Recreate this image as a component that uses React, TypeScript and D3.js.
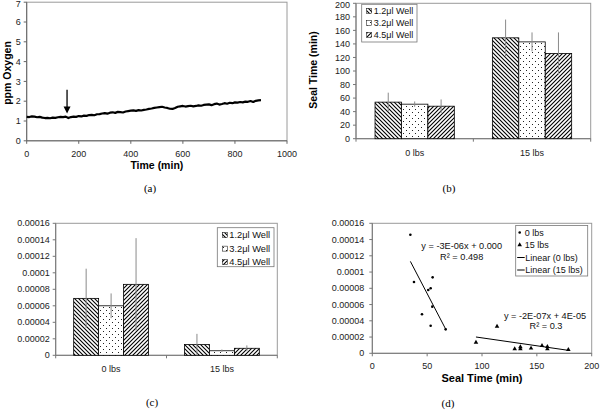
import React from "react";
import * as d3 from "d3";

// ---------- Panel (a) data ----------
const timeMin = [
  0, 10, 20, 30, 40, 50, 60, 70, 80, 90,
  100, 110, 120, 130, 140, 150, 160, 170, 180, 190,
  200, 210, 220, 230, 240, 250, 260, 270, 280, 290,
  300, 310, 320, 330, 340, 350, 360, 370, 380, 390,
  400, 410, 420, 430, 440, 450, 460, 470, 480, 490,
  500, 510, 520, 530, 540, 550, 560, 570, 580, 590,
  600, 610, 620, 630, 640, 650, 660, 670, 680, 690,
  700, 710, 720, 730, 740, 750, 760, 770, 780, 790,
  800, 810, 820, 830, 840, 850, 860, 870, 880, 890, 900,
];
const oxygenPpm = [
  1.21, 1.2, 1.23, 1.22, 1.19, 1.21, 1.17, 1.15, 1.16, 1.14,
  1.17, 1.16, 1.19, 1.21, 1.2, 1.22, 1.15, 1.2, 1.22, 1.21,
  1.25, 1.23, 1.27, 1.26, 1.3, 1.31, 1.29, 1.34, 1.35, 1.38,
  1.4, 1.37, 1.42, 1.44, 1.41, 1.46, 1.45, 1.43, 1.48, 1.5,
  1.52, 1.54, 1.51, 1.55, 1.53, 1.56, 1.58, 1.61, 1.63, 1.66,
  1.68, 1.7, 1.72, 1.68, 1.66, 1.62, 1.61, 1.66, 1.72, 1.74,
  1.76, 1.73, 1.75, 1.77, 1.74, 1.76, 1.79, 1.77, 1.81, 1.83,
  1.84, 1.8, 1.85, 1.88, 1.83, 1.86, 1.9, 1.87, 1.92, 1.9,
  1.94, 1.93, 1.96, 1.94, 1.98, 1.97, 2.01, 1.96, 2.02, 2.04, 2.05,
];
const arrowA = { t: 155, from: 2.58, to: 1.38 };
const aXTicks = [0, 200, 400, 600, 800, 1000];
const aYTicks = [0, 1, 2, 3, 4, 5, 6, 7];

// ---------- Panel (b) / (c) data ----------
const loads = ["0 lbs", "15 lbs"];
const wells = ["1.2\u03bcl Well", "3.2\u03bcl Well", "4.5\u03bcl Well"];
const sealMean = [
  [54, 51, 48],
  [149, 143, 126],
];
const sealErr = [
  [14, 4, 10],
  [27, 14, 31],
];
const bYTicks = [0, 20, 40, 60, 80, 100, 120, 140, 160, 180, 200];

const rateMean = [
  [0.000069, 0.00006, 0.000086],
  [0.000013, 0.0000055, 0.0000085],
];
const rateErr = [
  [0.000036, 0.000015, 0.000056],
  [0.000013, 0.0000015, 0.0000035],
];
const cYTicks = [0, 0.00002, 0.00004, 0.00006, 0.00008, 0.0001, 0.00012, 0.00014, 0.00016];
const cYTickLabels = ["0", "0.00002", "0.00004", "0.00006", "0.00008", "0.0001", "0.00012", "0.00014", "0.00016"];

// ---------- Panel (d) data ----------
const seal0 = [34.7, 38, 45.3, 51, 53.2, 55, 53.2, 54.7, 66.9];
const rate0 = [0.000146, 0.0000878, 0.000048, 0.000078, 0.00008, 0.0000935, 0.000034, 0.0000574, 0.0000295];
const seal15 = [94.5, 113.7, 129.8, 135, 135, 144.7, 154.7, 159.6, 159.6, 178.7];
const rate15 = [0.0000135, 0.0000332, 0.0000053, 0.0000078, 0.0000053, 0.0000062, 0.0000094, 0.0000082, 0.0000053, 0.0000045];
const trend0 = { slope: -2.59e-6, intercept: 0.000203, x0: 34.7, x1: 66.9 };
const trend15 = { slope: -1.95e-7, intercept: 0.0000385, x0: 94.5, x1: 178.7 };
const dXTicks = [0, 50, 100, 150, 200];
const dLegend = ["0 lbs", "15 lbs", "Linear (0 lbs)", "Linear (15 lbs)"];

const FONT = "'Liberation Sans', Arial, sans-serif";
const FRAME = "#9a9a9a";
const ERR = "#8a8a8a";
const patIds = ["patDown", "patDots", "patUp"];

function Patterns() {
  return (
    <defs>
      <pattern id="patDown" patternUnits="userSpaceOnUse" width={4} height={4}>
        <rect width={4} height={4} fill="#fff" />
        <path d="M-1,-1 L5,5 M-1,3 L1,5 M3,-1 L5,1" stroke="#000" strokeWidth={1.1} />
      </pattern>
      <pattern id="patDots" patternUnits="userSpaceOnUse" width={6} height={6}>
        <rect width={6} height={6} fill="#fff" />
        <rect x={1} y={1} width={1} height={1} fill="#222" />
        <rect x={4} y={4} width={1} height={1} fill="#222" />
      </pattern>
      <pattern id="patUp" patternUnits="userSpaceOnUse" width={4} height={4}>
        <rect width={4} height={4} fill="#fff" />
        <path d="M-1,5 L5,-1 M-1,1 L1,-1 M3,5 L5,3" stroke="#000" strokeWidth={1.1} />
      </pattern>
    </defs>
  );
}

function PanelA() {
  const L = 26.7, R = 287, T = 2.2, B = 140.8;
  const x = d3.scaleLinear().domain([0, 1000]).range([L, R]);
  const y = d3.scaleLinear().domain([0, 7]).range([B, T]);
  const pts = timeMin.map((t, i) => [t, oxygenPpm[i]] as [number, number]);
  const line = d3.line<[number, number]>().x((d) => x(d[0])).y((d) => y(d[1]));
  const ax = x(arrowA.t);
  return (
    <g fontFamily={FONT}>
      <rect x={L} y={T} width={R - L} height={B - T} fill="none" stroke={FRAME} strokeWidth={1} />
      <line x1={L} x2={L} y1={T} y2={B} stroke="#666" />
      <line x1={L} x2={R} y1={B} y2={B} stroke="#666" />
      {aYTicks.map((v) => (
        <g key={v}>
          <line x1={L - 3} x2={L} y1={y(v)} y2={y(v)} stroke="#666" />
          <text x={L - 6} y={Math.max(y(v), 4)} dy="0.35em" textAnchor="end" fontSize={9} fill="#222">{v}</text>
        </g>
      ))}
      {aXTicks.map((v) => (
        <g key={v}>
          <line x1={x(v)} x2={x(v)} y1={B} y2={B + 3} stroke="#666" />
          <text x={x(v)} y={153.5} dy="0.35em" textAnchor="middle" fontSize={9} fill="#222">{v}</text>
        </g>
      ))}
      <path d={line(pts) || ""} fill="none" stroke="#000" strokeWidth={2.2} strokeLinejoin="round" />
      <line x1={ax} x2={ax} y1={y(arrowA.from)} y2={y(arrowA.to) - 6} stroke="#000" strokeWidth={1.3} />
      <path d={`M${ax - 3.5},${y(arrowA.to) - 7} L${ax + 3.5},${y(arrowA.to) - 7} L${ax},${y(arrowA.to)} Z`} fill="#000" />
      <text x={(L + R) / 2} y={165} dy="0.35em" textAnchor="middle" fontSize={10.5} fontWeight="bold">Time (min)</text>
      <text transform={`translate(7,${73}) rotate(-90)`} dy="0.35em" textAnchor="middle" fontSize={10.5} fontWeight="bold">ppm Oxygen</text>
    </g>
  );
}

type BarProps = {
  L: number; R: number; T: number; B: number; ymax: number;
  ticks: number[]; tickLabels: string[]; means: number[][]; errs: number[][];
  catY: number; legend: { x: number; y: number; w: number; h: number; step: number; fs: number };
};

function BarPanel(p: BarProps) {
  const x0 = d3.scaleBand<string>().domain(loads).range([p.L, p.R]).padding(0);
  const x1 = d3.scaleBand<string>().domain(wells).range([0, x0.bandwidth()]).paddingInner(0).paddingOuter(0.72);
  const y = d3.scaleLinear().domain([0, p.ymax]).range([p.B, p.T]);
  const lg = p.legend;
  return (
    <g fontFamily={FONT}>
      <rect x={p.L} y={p.T} width={p.R - p.L} height={p.B - p.T} fill="none" stroke={FRAME} />
      <line x1={p.L} x2={p.L} y1={p.T} y2={p.B} stroke="#777" />
      <line x1={p.L} x2={p.R} y1={p.B} y2={p.B} stroke="#777" />
      {p.ticks.map((v, i) => (
        <g key={i}>
          <line x1={p.L - 3} x2={p.L} y1={y(v)} y2={y(v)} stroke="#777" />
          <text x={p.L - 6} y={Math.max(y(v), 4.5)} dy="0.35em" textAnchor="end" fontSize={9} fill="#222">{p.tickLabels[i]}</text>
        </g>
      ))}
      {[p.L, (p.L + p.R) / 2, p.R].map((v, i) => (
        <line key={i} x1={v} x2={v} y1={p.B} y2={p.B + 3} stroke="#777" />
      ))}
      {loads.map((c, ci) => (
        <g key={c}>
          <text x={(x0(c) || 0) + x0.bandwidth() / 2} y={p.catY} dy="0.35em" textAnchor="middle" fontSize={9} fill="#222">{c}</text>
          {wells.map((w, wi) => {
            const bx = (x0(c) || 0) + (x1(w) || 0);
            const v = p.means[ci][wi];
            return (
              <rect key={w} x={bx} y={y(v)} width={x1.bandwidth()} height={p.B - y(v)} fill={`url(#${patIds[wi]})`} stroke="#000" strokeWidth={0.8} />
            );
          })}
          {wells.map((w, wi) => {
            const cx = (x0(c) || 0) + (x1(w) || 0) + x1.bandwidth() / 2;
            const v = p.means[ci][wi];
            const e = p.errs[ci][wi];
            return <line key={w + "e"} x1={cx} x2={cx} y1={y(v + e)} y2={y(Math.max(0, v - e))} stroke={ERR} strokeWidth={1} />;
          })}
        </g>
      ))}
      <g>
        <rect x={lg.x} y={lg.y} width={lg.w} height={lg.h} fill="#fff" stroke="#777" strokeWidth={0.8} />
        {wells.map((w, i) => {
          const cy = lg.y + lg.step * 0.55 + i * lg.step;
          return (
            <g key={w}>
              <rect x={lg.x + 5} y={cy - 2.5} width={5} height={5} fill={`url(#${patIds[i]})`} stroke="#000" strokeWidth={0.5} />
              <text x={lg.x + 12} y={cy} dy="0.35em" fontSize={lg.fs} fill="#111">{w}</text>
            </g>
          );
        })}
      </g>
    </g>
  );
}

function PanelD() {
  const L = 372.3, R = 591.7, T = 223.3, B = 353.3;
  const x = d3.scaleLinear().domain([0, 200]).range([L, R]);
  const y = d3.scaleLinear().domain([0, 0.00016]).range([B, T]);
  const tri = d3.symbol().type(d3.symbolTriangle).size(9)();
  const fmt = (d: number) => cYTickLabels[cYTicks.indexOf(d)];
  const lx = 515.7, ly = 225.5, lw = 72, lh = 50.5;
  return (
    <g fontFamily={FONT}>
      <rect x={L} y={T} width={R - L} height={B - T} fill="none" stroke={FRAME} />
      <line x1={L} x2={L} y1={T} y2={B} stroke="#777" />
      <line x1={L} x2={R} y1={B} y2={B} stroke="#777" />
      {cYTicks.map((v) => (
        <g key={v}>
          <line x1={L - 3} x2={L} y1={y(v)} y2={y(v)} stroke="#777" />
          <text x={L - 8} y={y(v)} dy="0.35em" textAnchor="end" fontSize={9} fill="#222">{fmt(v)}</text>
        </g>
      ))}
      {dXTicks.map((v) => (
        <g key={v}>
          <line x1={x(v)} x2={x(v)} y1={B} y2={B + 3} stroke="#777" />
          <text x={x(v)} y={365.7} dy="0.35em" textAnchor="middle" fontSize={9} fill="#222">{v}</text>
        </g>
      ))}
      <line x1={x(trend0.x0)} x2={x(trend0.x1)} y1={y(trend0.slope * trend0.x0 + trend0.intercept)} y2={y(trend0.slope * trend0.x1 + trend0.intercept)} stroke="#000" strokeWidth={1} />
      <line x1={x(trend15.x0)} x2={x(trend15.x1)} y1={y(trend15.slope * trend15.x0 + trend15.intercept)} y2={y(trend15.slope * trend15.x1 + trend15.intercept)} stroke="#000" strokeWidth={1} />
      {seal0.map((s, i) => (
        <circle key={"a" + i} cx={x(s)} cy={y(rate0[i])} r={1.3} fill="#000" />
      ))}
      {seal15.map((s, i) => (
        <path key={"b" + i} d={tri || ""} transform={`translate(${x(s)},${y(rate15[i])})`} fill="#000" />
      ))}
      <text x={461.7} y={245.7} dy="0.35em" textAnchor="middle" fontSize={9.2} fill="#111">y = -3E-06x + 0.000</text>
      <text x={461.7} y={256.3} dy="0.35em" textAnchor="middle" fontSize={9.2} fill="#111">R² = 0.498</text>
      <text x={545} y={316} dy="0.35em" textAnchor="middle" fontSize={9.2} fill="#111">y = -2E-07x + 4E-05</text>
      <text x={546} y={325.7} dy="0.35em" textAnchor="middle" fontSize={9.2} fill="#111">R² = 0.3</text>
      <text x={(L + R) / 2} y={377.7} dy="0.35em" textAnchor="middle" fontSize={11} fontWeight="bold">Seal Time (min)</text>
      <g>
        <rect x={lx} y={ly} width={lw} height={lh} fill="#fff" stroke="#777" strokeWidth={0.8} />
        {dLegend.map((t, i) => {
          const cy = ly + 7 + i * 12.5;
          return (
            <g key={t}>
              {i === 0 && <circle cx={lx + 4} cy={cy} r={1.3} fill="#000" />}
              {i === 1 && <path d={tri || ""} transform={`translate(${lx + 4},${cy})`} fill="#000" />}
              {i >= 2 && <line x1={lx + 1.5} x2={lx + 9} y1={cy} y2={cy} stroke="#000" />}
              <text x={i >= 2 ? lx + 9.5 : lx + 9} y={cy} dy="0.35em" fontSize={9} fill="#111">{t}</text>
            </g>
          );
        })}
      </g>
    </g>
  );
}

export default function App() {
  return (
    <svg width={600} height={412} style={{ position: "absolute", left: 0, top: 0, background: "#fff" }}>
      <Patterns />
      <rect width={600} height={412} fill="#fff" />
      <PanelA />
      <BarPanel
        L={356} R={590.7} T={3.3} B={138.7} ymax={200}
        ticks={bYTicks} tickLabels={bYTicks.map(String)}
        means={sealMean} errs={sealErr} catY={153}
        legend={{ x: 361.7, y: 4.3, w: 55.3, h: 37.7, step: 12, fs: 9 }}
      />
      <text transform="translate(313,70) rotate(-90)" dy="0.35em" textAnchor="middle" fontSize={10.5} fontWeight="bold" fontFamily={FONT}>Seal Time (min)</text>
      <BarPanel
        L={55.7} R={277.3} T={223.3} B={355.3} ymax={0.00016}
        ticks={cYTicks} tickLabels={cYTickLabels}
        means={rateMean} errs={rateErr} catY={369}
        legend={{ x: 217.3, y: 227.7, w: 56.7, h: 39, step: 13.5, fs: 9.3 }}
      />
      <PanelD />
      <g fontFamily="'Liberation Serif', 'Times New Roman', serif" fontSize={11} textAnchor="middle">
        <text x={150} y={188} dy="0.35em">(a)</text>
        <text x={449} y={188} dy="0.35em">(b)</text>
        <text x={152} y={402} dy="0.35em">(c)</text>
        <text x={448} y={403} dy="0.35em">(d)</text>
      </g>
    </svg>
  );
}
